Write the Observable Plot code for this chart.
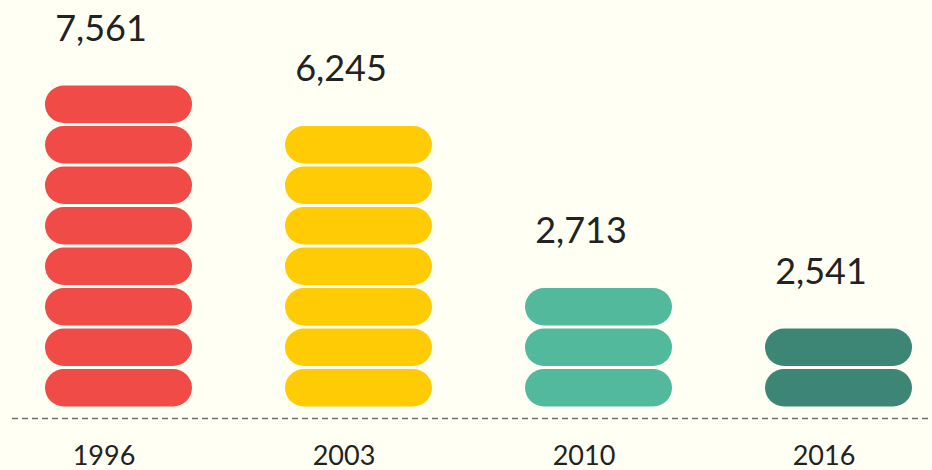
<!DOCTYPE html>
<html>
<head>
<meta charset="utf-8">
<script src="https://cdn.jsdelivr.net/npm/d3@7"></script>
<script src="https://cdn.jsdelivr.net/npm/@observablehq/plot@0.6"></script>
<style>
  html, body { margin: 0; padding: 0; background: #fffff3; }
  #chart svg { display: block; }
</style>
</head>
<body>
<div id="chart"></div>
<script>
const years = ["1996", "2003", "2010", "2016"];
const values = [7561, 6245, 2713, 2541];
const pillCounts = [8, 7, 3, 2];
const colors = ["#f04b47", "#ffcb05", "#53b99c", "#3d8575"];

const pills = years.flatMap((year, k) =>
  d3.range(pillCounts[k]).map(i => ({year, i}))
);
const labels = years.map((year, k) => ({year, value: values[k], top: pillCounts[k]}));

const font = "Lato, 'Open Sans', sans-serif";

const chart = Plot.plot({
  width: 932,
  height: 470,
  marginTop: 0,
  marginBottom: 0,
  marginLeft: 12,
  marginRight: 0,
  style: {background: "#fffff3", fontFamily: font, overflow: "visible"},
  x: {type: "band", domain: years, range: [-2, 958], paddingInner: 0.3875, paddingOuter: 0.19375, axis: null},
  y: {domain: [0, 10], range: [408, 3], axis: null},
  color: {domain: years, range: colors},
  marks: [
    Plot.ruleY([0], {dy: 10, stroke: "#6f6f6f", strokeWidth: 1.6, strokeDasharray: "6,4"}),
    Plot.barY(pills, {
      x: "year", y1: "i", y2: d => d.i + 1, fill: "year",
      insetTop: 1.5, insetBottom: 1.5, rx: 19
    }),
    Plot.text(labels, {
      x: "year", y: "top", text: d => d3.format(",")(d.value),
      dy: -44, dx: -18, lineAnchor: "bottom", fontSize: 36, fill: "#222"
    }),
    Plot.text(years, {
      x: d => d, text: d => d, frameAnchor: "bottom", lineAnchor: "bottom",
      dy: -6, dx: -15, fontSize: 27, fill: "#222"
    })
  ]
});
document.getElementById("chart").appendChild(chart);
</script>
</body>
</html>
